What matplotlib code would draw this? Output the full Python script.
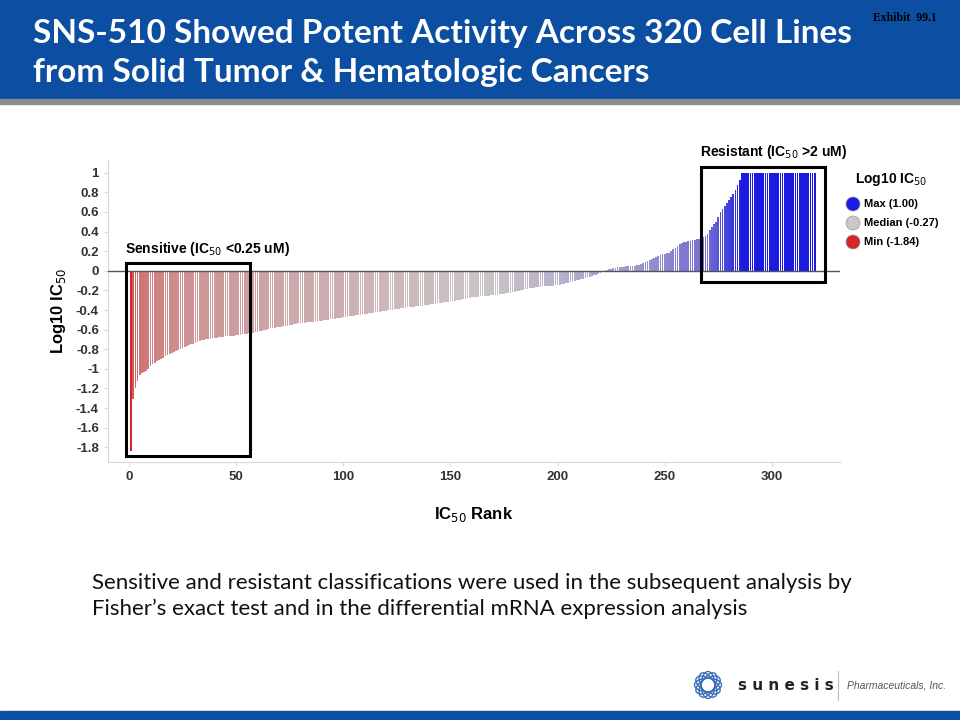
import numpy as np
import matplotlib
matplotlib.use("Agg")
import matplotlib.pyplot as plt
from matplotlib.colors import LinearSegmentedColormap, TwoSlopeNorm
from matplotlib.patches import Rectangle, Ellipse

# Log10 IC50 per cell line, sorted by rank
log_ic50 = [
    -1.84, -1.31, -1.20, -1.12, -1.06, -1.04, -1.03, -1.02, -1.00, -0.97,
    -0.95, -0.94, -0.92, -0.91, -0.90, -0.89, -0.87, -0.86, -0.85, -0.84,
    -0.83, -0.82, -0.81, -0.80, -0.79, -0.78, -0.77, -0.76, -0.75, -0.75,
    -0.74, -0.73, -0.72, -0.71, -0.71, -0.70, -0.70, -0.70, -0.69, -0.69,
    -0.69, -0.68, -0.68, -0.68, -0.67, -0.67, -0.66, -0.66, -0.66, -0.65,
    -0.65, -0.65, -0.64, -0.64, -0.64, -0.63, -0.63, -0.63, -0.62, -0.62,
    -0.61, -0.61, -0.60, -0.60, -0.59, -0.58, -0.58, -0.58, -0.57, -0.57,
    -0.57, -0.56, -0.56, -0.56, -0.55, -0.55, -0.54, -0.54, -0.53, -0.53,
    -0.53, -0.53, -0.52, -0.52, -0.52, -0.52, -0.51, -0.51, -0.51, -0.51,
    -0.50, -0.50, -0.50, -0.49, -0.49, -0.49, -0.48, -0.48, -0.48, -0.47,
    -0.47, -0.47, -0.46, -0.46, -0.46, -0.45, -0.45, -0.45, -0.44, -0.44,
    -0.44, -0.43, -0.43, -0.43, -0.42, -0.42, -0.42, -0.41, -0.41, -0.41,
    -0.40, -0.40, -0.40, -0.39, -0.39, -0.39, -0.38, -0.38, -0.38, -0.37,
    -0.37, -0.37, -0.37, -0.36, -0.36, -0.36, -0.36, -0.35, -0.35, -0.35,
    -0.34, -0.34, -0.34, -0.33, -0.33, -0.33, -0.32, -0.32, -0.32, -0.31,
    -0.31, -0.31, -0.30, -0.30, -0.30, -0.29, -0.29, -0.28, -0.28, -0.27,
    -0.27, -0.27, -0.27, -0.26, -0.26, -0.26, -0.26, -0.26, -0.25, -0.25,
    -0.25, -0.25, -0.24, -0.24, -0.24, -0.23, -0.23, -0.23, -0.22, -0.22,
    -0.21, -0.21, -0.20, -0.20, -0.19, -0.19, -0.18, -0.18, -0.18, -0.17,
    -0.17, -0.17, -0.16, -0.16, -0.16, -0.15, -0.15, -0.15, -0.14, -0.14,
    -0.14, -0.13, -0.13, -0.12, -0.12, -0.11, -0.10, -0.10, -0.09, -0.09,
    -0.08, -0.08, -0.07, -0.06, -0.06, -0.05, -0.04, -0.04, -0.03, -0.02,
    -0.01, 0.00, 0.01, 0.02, 0.02, 0.03, 0.03, 0.04, 0.04, 0.04,
    0.04, 0.05, 0.05, 0.05, 0.05, 0.05, 0.06, 0.06, 0.07, 0.08,
    0.09, 0.10, 0.11, 0.12, 0.13, 0.14, 0.15, 0.16, 0.17, 0.17,
    0.18, 0.18, 0.20, 0.22, 0.23, 0.25, 0.27, 0.28, 0.29, 0.29,
    0.30, 0.30, 0.31, 0.31, 0.32, 0.32, 0.33, 0.34, 0.36, 0.38,
    0.42, 0.45, 0.48, 0.50, 0.55, 0.60, 0.63, 0.66, 0.69, 0.72,
    0.75, 0.78, 0.82, 0.87, 0.93, 1.00, 1.00, 1.00, 1.00, 1.00,
    1.00, 1.00, 1.00, 1.00, 1.00, 1.00, 1.00, 1.00, 1.00, 1.00,
    1.00, 1.00, 1.00, 1.00, 1.00, 1.00, 1.00, 1.00, 1.00, 1.00,
    1.00, 1.00, 1.00, 1.00, 1.00, 1.00, 1.00, 1.00, 1.00, 1.00,
]
ranks = np.arange(1, len(log_ic50) + 1)

legend_labels = ["Max (1.00)", "Median (-0.27)", "Min (-1.84)"]
legend_colors = ["#1a1ae0", "#c8c8c8", "#d42626"]
yticks = [1, 0.8, 0.6, 0.4, 0.2, 0, -0.2, -0.4, -0.6, -0.8, -1, -1.2, -1.4, -1.6, -1.8]
xticks = [0, 50, 100, 150, 200, 250, 300]

title = "SNS-510 Showed Potent Activity Across 320 Cell Lines\nfrom Solid Tumor & Hematologic Cancers"
note = ("Sensitive and resistant classifications were used in the subsequent analysis by\n"
        "Fisher\u2019s exact test and in the differential mRNA expression analysis")

blue = "#0b4ea2"

fig = plt.figure(figsize=(9.6, 7.2), dpi=100)

# header / footer bands
fig.patches.append(Rectangle((0, 1 - 99/720), 1, 99/720, transform=fig.transFigure, color=blue, zorder=0))
fig.patches.append(Rectangle((0, 1 - 104/720), 1, 5/720, transform=fig.transFigure, color="#8c8c8c", zorder=0))
fig.patches.append(Rectangle((0, 0), 1, 9/720, transform=fig.transFigure, color=blue, zorder=0))

fig.text(33/960, 1 - 53/720, title, color="white", fontsize=24, fontweight="bold",
         family="Lato", va="center", ha="left", linespacing=1.4)
fig.text(873/960, 1 - 18/720, "Exhibit  99.1", fontsize=8.5, family="Liberation Serif",
         fontweight="bold", va="center", ha="left")

# chart
ax = fig.add_axes([108/960, 1 - 462/720, 732/960, 302/720])
cmap = LinearSegmentedColormap.from_list("ic50", ["#d42626", "#cbc4c6", "#1a1ae0"])
norm = TwoSlopeNorm(vmin=-1.84, vcenter=-0.27, vmax=1.0)
ax.bar(ranks, log_ic50, width=0.75, color=cmap(norm(np.array(log_ic50))), linewidth=0)
ax.axhline(0, color="#555555", linewidth=1.0, zorder=3)

ax.set_xlim(-9.8, 331.8)
ax.set_ylim(-1.95, 1.13)
ax.set_yticks(yticks)
ax.set_yticklabels([f"{t:g}" for t in yticks])
ax.set_xticks(xticks)
for s in ["top", "right"]:
    ax.spines[s].set_visible(False)
for s in ["left", "bottom"]:
    ax.spines[s].set_color("#d9d9d9")
ax.tick_params(axis="both", colors="#d9d9d9", length=3, labelcolor="#333333",
               labelsize=9.5)
for lab in ax.get_xticklabels() + ax.get_yticklabels():
    lab.set_fontweight("bold")
    lab.set_family("Liberation Sans")
ax.set_ylabel("Log10 IC$_{50}$", fontsize=12, fontweight="bold", family="Liberation Sans",
              labelpad=6)
ax.set_xlabel("IC$_{50}$ Rank", fontsize=12, fontweight="bold", family="Liberation Sans",
              labelpad=16)

# classification boxes
ax.add_patch(Rectangle((-1.5, -1.89), 58, 1.97, fill=False, edgecolor="black",
                       linewidth=2.2, zorder=4, clip_on=False))
ax.add_patch(Rectangle((266.9, -0.11), 57.9, 1.17, fill=False, edgecolor="black",
                       linewidth=2.2, zorder=4, clip_on=False))
ax.text(-2, 0.13, "Sensitive (IC$_{50}$ <0.25 uM)", fontsize=10, fontweight="bold",
        family="Liberation Sans", va="bottom", ha="left")
ax.text(266.5, 1.12, "Resistant (IC$_{50}$ >2 uM)", fontsize=10, fontweight="bold",
        family="Liberation Sans", va="bottom", ha="left")

# legend
fig.text(855/960, 1 - 180/720, "Log10 IC$_{50}$", fontsize=10, fontweight="bold",
         family="Liberation Sans", va="center", ha="left")
for i, (lab, col) in enumerate(zip(legend_labels, legend_colors)):
    yy = 1 - (204 + 19 * i)/720
    fig.patches.append(Ellipse((853/960, yy), 14/960, 14/720, transform=fig.transFigure,
                               facecolor=col, edgecolor="#999999", linewidth=0.5))
    fig.text(864/960, yy, lab, fontsize=8, fontweight="bold", family="Liberation Sans",
             va="center", ha="left")

# footnote text
fig.text(92/960, 1 - 596/720, note, fontsize=16, family="Lato", va="center", ha="left",
         linespacing=1.4, color="#111111")

# logo
lax = fig.add_axes([693/960, 1 - 700/720, 30/960, 30/720])
lax.set_xlim(-1, 1)
lax.set_ylim(-1, 1)
lax.set_aspect("equal")
lax.axis("off")
for k in range(6):
    lax.add_patch(Ellipse((0, 0), 1.8, 0.9, angle=k*30, fill=False,
                          edgecolor="#3a6fb5", linewidth=1.0))
fig.text(738/960, 1 - 686/720, "s u n e s i s", fontsize=11, fontweight="bold",
         family="DejaVu Sans", va="center", ha="left", color="#222222")
fig.lines.append(plt.Line2D([838/960, 838/960], [1 - 700/720, 1 - 671/720],
                            transform=fig.transFigure, color="#bbbbbb", linewidth=0.8))
fig.text(847/960, 1 - 686/720, "Pharmaceuticals, Inc.", fontsize=7.5, style="italic",
         family="Liberation Sans", va="center", ha="left", color="#555555")

fig.savefig("out.png", dpi=100)
